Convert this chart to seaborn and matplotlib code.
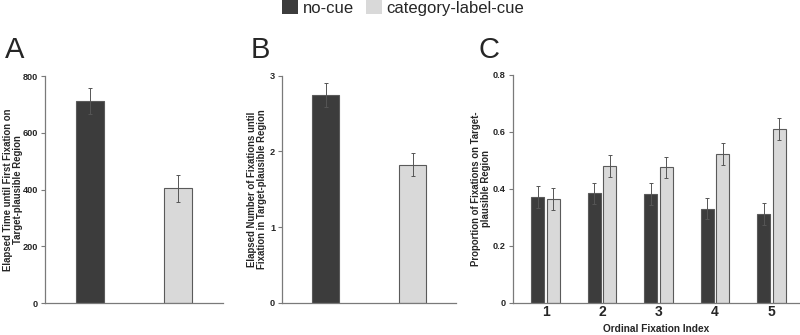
import numpy as np
import pandas as pd
import matplotlib
matplotlib.use("Agg")
import matplotlib.pyplot as plt
from matplotlib.patches import Patch
import seaborn as sns

# ---- data ----
conditions = ["no-cue", "category-label-cue"]
time_means = [712, 404]
time_errs = [45, 47]
nfix_means = [2.745, 1.824]
nfix_errs = [0.155, 0.152]
fix_index = ["1", "2", "3", "4", "5"]
prop_nocue = [0.370, 0.384, 0.381, 0.330, 0.310]
prop_nocue_err = [0.039, 0.037, 0.038, 0.038, 0.039]
prop_label = [0.363, 0.480, 0.476, 0.521, 0.609]
prop_label_err = [0.038, 0.038, 0.037, 0.038, 0.038]

dark = "#3c3c3c"
light = "#d9d9d9"
palette = {conditions[0]: dark, conditions[1]: light}
edge_c = "#5a5a5a"
spine_c = "#7a7a7a"
err_c = "#555555"

sns.set_theme(style="white")
plt.rcParams["font.family"] = ["Liberation Sans", "DejaVu Sans"]

fig = plt.figure(figsize=(8.0, 3.35), dpi=100)
axA = fig.add_axes([0.056, 0.0955, 0.223, 0.6775])
axB = fig.add_axes([0.3525, 0.0964, 0.2175, 0.6776])
axC = fig.add_axes([0.641, 0.0964, 0.358, 0.6806])


def style_axis(ax):
    for s in ["top", "right"]:
        ax.spines[s].set_visible(False)
    for s in ["left", "bottom"]:
        ax.spines[s].set_color(spine_c)
        ax.spines[s].set_linewidth(0.9)
    ax.tick_params(axis="y", length=3, width=0.8, color=spine_c, pad=2,
                   labelsize=6.6, left=True)
    for lab in ax.get_yticklabels():
        lab.set_fontweight("bold")


def add_errs(ax, means, errs):
    patches = sorted(ax.patches, key=lambda p: p.get_x() + p.get_width() / 2)
    xs = [p.get_x() + p.get_width() / 2 for p in patches]
    ax.errorbar(xs, means, yerr=errs, fmt="none", ecolor=err_c,
                elinewidth=0.7, capsize=1.3, capthick=0.7, zorder=5)


ylab_kw = dict(fontsize=6.9, fontweight="bold", linespacing=1.05)

# Panel A
dfA = pd.DataFrame({"cond": conditions, "val": time_means})
sns.barplot(data=dfA, x="cond", y="val", hue="cond", palette=palette,
            width=0.32, legend=False, ax=axA, edgecolor=edge_c, linewidth=0.8)
add_errs(axA, time_means, time_errs)
axA.set_xlim(-0.51, 1.51)
axA.set_ylim(0, 800)
axA.set_yticks([0, 200, 400, 600, 800])
axA.set_xticks([])
axA.set_xlabel("")
axA.set_ylabel("Elapsed Time until First Fixation on\nTarget-plausible Region", **ylab_kw)
axA.yaxis.set_label_coords(-0.12, 0.5)
style_axis(axA)

# Panel B
dfB = pd.DataFrame({"cond": conditions, "val": nfix_means})
sns.barplot(data=dfB, x="cond", y="val", hue="cond", palette=palette,
            width=0.31, legend=False, ax=axB, edgecolor=edge_c, linewidth=0.8)
add_errs(axB, nfix_means, nfix_errs)
axB.set_xlim(-0.5, 1.5)
axB.set_ylim(0, 3)
axB.set_yticks([0, 1, 2, 3])
axB.set_xticks([])
axB.set_xlabel("")
axB.set_ylabel("Elapsed Number of Fixations until\nFixation in Target-plausible Region", **ylab_kw)
axB.yaxis.set_label_coords(-0.085, 0.5)
style_axis(axB)

# Panel C
dfC = pd.DataFrame({
    "idx": fix_index * 2,
    "cond": [conditions[0]] * len(fix_index) + [conditions[1]] * len(fix_index),
    "val": prop_nocue + prop_label,
})
sns.barplot(data=dfC, x="idx", y="val", hue="cond", palette=palette,
            width=0.56, gap=0.18, legend=False, ax=axC,
            edgecolor=edge_c, linewidth=0.8)
means_C, errs_C = [], []
for a, b, ea, eb in zip(prop_nocue, prop_label, prop_nocue_err, prop_label_err):
    means_C += [a, b]
    errs_C += [ea, eb]
add_errs(axC, means_C, errs_C)
axC.set_xlim(-0.58, 4.49)
axC.set_ylim(0, 0.8)
axC.set_yticks([0, 0.2, 0.4, 0.6, 0.8])
axC.set_yticklabels(["0", "0.2", "0.4", "0.6", "0.8"])
axC.tick_params(axis="x", length=0, labelsize=10, pad=2)
for lab in axC.get_xticklabels():
    lab.set_fontweight("bold")
axC.set_xlabel("Ordinal Fixation Index", fontsize=7.3, fontweight="bold", labelpad=3)
axC.set_ylabel("Proportion of Fixations on Target-\nplausible Region", **ylab_kw)
axC.yaxis.set_label_coords(-0.075, 0.5)
style_axis(axC)

# panel letters
for x, letter in [(0.006, "A"), (0.313, "B"), (0.598, "C")]:
    fig.text(x, 0.808, letter, fontsize=21, ha="left", va="bottom")

# legend
handles = [Patch(facecolor=dark, edgecolor="none"), Patch(facecolor=light, edgecolor="none")]
fig.legend(handles, conditions, loc="upper center", bbox_to_anchor=(0.504, 1.045),
           ncol=2, frameon=False, fontsize=12, handlelength=0.95, handleheight=0.95,
           handletextpad=0.3, columnspacing=0.7)

fig.savefig("out.png", dpi=100, facecolor="white")
